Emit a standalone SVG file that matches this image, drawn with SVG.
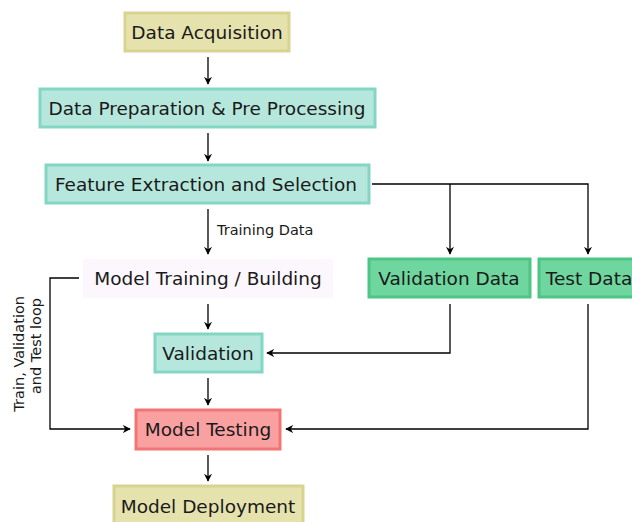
<svg xmlns="http://www.w3.org/2000/svg" width="632" height="522" viewBox="0 0 632 522">
  <style>
    .lbl { font-family: "DejaVu Sans", Verdana, sans-serif; font-size: 18.5px; fill: #1a1a1a; text-anchor: middle; dominant-baseline: central; }
    .small { font-family: "DejaVu Sans", Verdana, sans-serif; font-size: 14.5px; fill: #1a1a1a; }
    .side { font-family: "DejaVu Sans", Verdana, sans-serif; font-size: 14.5px; fill: #1a1a1a; text-anchor: end; }
    .khaki { fill: #e5e2ad; stroke: #d8d48f; stroke-width: 3; }
    .teal { fill: #b6e7dc; stroke: #84d6c4; stroke-width: 3; }
    .green { fill: #6fd69f; stroke: #4dc585; stroke-width: 3; }
    .red { fill: #f9a1a1; stroke: #f27474; stroke-width: 3; }
    .plain { fill: #fbf7fd; stroke: none; }
    .edge { fill: none; stroke: #000; stroke-width: 1.3; marker-end: url(#arrow); }
  </style>
  <defs>
    <marker id="arrow" viewBox="0 0 10 10" refX="9" refY="5" markerWidth="8" markerHeight="8" markerUnits="userSpaceOnUse" orient="auto">
      <path d="M0,0 L10,5 L0,10 L3,5 Z" fill="#000"/>
    </marker>
  </defs>
  <rect width="632" height="522" fill="#fff"/>

  <g id="edges">
    <path class="edge" d="M208,57 V84"/>
    <path class="edge" d="M208,133 V161"/>
    <path class="edge" d="M208,209 V254"/>
    <path class="edge" d="M372,184 H588 V254"/>
    <path class="edge" d="M450,184 V254"/>
    <path class="edge" d="M208,304 V329"/>
    <path class="edge" d="M208,378 V405"/>
    <path class="edge" d="M208,455 V481"/>
    <path class="edge" d="M450,304 V353 H267"/>
    <path class="edge" d="M588,304 V429 H286"/>
    <path class="edge" d="M79,278 H50 V429 H130"/>
  </g>

  <g id="data-acquisition">
    <rect class="khaki" x="125" y="13" width="164" height="38"/>
    <text class="lbl" x="207" y="32">Data Acquisition</text>
  </g>
  <g id="data-preparation">
    <rect class="teal" x="40" y="89" width="335" height="38"/>
    <text class="lbl" x="207" y="108">Data Preparation &amp; Pre Processing</text>
  </g>
  <g id="feature-extraction">
    <rect class="teal" x="46" y="165" width="323" height="38"/>
    <text class="lbl" x="206" y="184">Feature Extraction and Selection</text>
  </g>
  <g id="training-data-label">
    <text class="small" x="217" y="235">Training Data</text>
  </g>
  <g id="model-training">
    <rect class="plain" x="83" y="259" width="250" height="39"/>
    <text class="lbl" x="208" y="278">Model Training / Building</text>
  </g>
  <g id="validation-data">
    <rect class="green" x="369" y="259" width="161" height="38"/>
    <text class="lbl" x="449" y="278">Validation Data</text>
  </g>
  <g id="test-data">
    <rect class="green" x="539" y="259" width="100" height="38"/>
    <text class="lbl" x="589" y="278">Test Data</text>
  </g>
  <g id="validation">
    <rect class="teal" x="155" y="334" width="107" height="38"/>
    <text class="lbl" x="208" y="353">Validation</text>
  </g>
  <g id="model-testing">
    <rect class="red" x="136" y="410" width="144" height="39"/>
    <text class="lbl" x="208" y="429">Model Testing</text>
  </g>
  <g id="model-deployment">
    <rect class="khaki" x="114" y="486" width="189" height="38"/>
    <text class="lbl" x="208" y="506">Model Deployment</text>
  </g>
  <g id="loop-label">
    <text class="side" transform="translate(24,296) rotate(-90)">Train, Validation</text>
    <text class="side" transform="translate(41,298) rotate(-90)">and Test loop</text>
  </g>
</svg>
